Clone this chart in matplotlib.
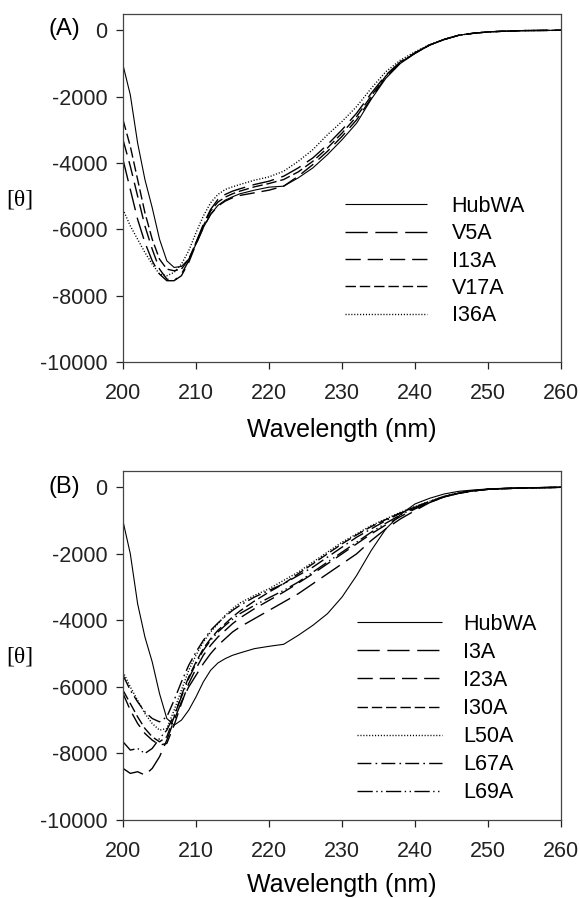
import matplotlib
import matplotlib.pyplot as plt

matplotlib.use("Agg")

plt.rcParams["font.family"] = ["Liberation Sans", "DejaVu Sans"]
plt.rcParams["axes.unicode_minus"] = False

# wavelength grid (nm)
wl = [200, 201, 202, 203, 204, 205, 206, 207, 208, 209, 210, 211, 212, 213,
      214, 215, 216, 218, 220, 222, 224, 226, 228, 230, 232, 234, 236, 238,
      240, 242, 244, 246, 248, 250, 252, 255, 260]

# panel (A)
a_hubwa = [-1050, -1950, -3400, -4500, -5350, -6300, -6950, -7150, -7120,
           -6900, -6450, -5950, -5550, -5280, -5120, -5020, -4930, -4820,
           -4730, -4700, -4450, -4150, -3750, -3300, -2800, -2080, -1450,
           -1000, -700, -450, -280, -150, -90, -50, -30, -10, 0]
a_v5a = [-3900, -4800, -5700, -6400, -6950, -7350, -7550, -7550, -7350,
         -6950, -6400, -5850, -5400, -5100, -4950, -4850, -4780, -4650,
         -4550, -4400, -4150, -3850, -3450, -3000, -2500, -1900, -1350,
         -950, -680, -440, -275, -150, -90, -50, -30, -10, 0]
a_i13a = [-3300, -4100, -5000, -5900, -6600, -7200, -7500, -7550, -7400,
          -7000, -6450, -5950, -5550, -5300, -5150, -5050, -4980, -4900,
          -4820, -4700, -4400, -4050, -3650, -3200, -2700, -2050, -1400,
          -980, -690, -445, -278, -150, -90, -50, -30, -10, 0]
a_v17a = [-2700, -3500, -4500, -5500, -6300, -6900, -7200, -7250, -7200,
          -6900, -6400, -5900, -5450, -5180, -5030, -4930, -4850, -4720,
          -4620, -4500, -4270, -3950, -3550, -3100, -2600, -1980, -1380,
          -970, -690, -445, -278, -150, -90, -50, -30, -10, 0]
a_i36a = [-5400, -5900, -6300, -6700, -7050, -7350, -7400, -7300, -7050,
          -6650, -6100, -5600, -5200, -4950, -4800, -4720, -4650, -4520,
          -4420, -4250, -3950, -3600, -3150, -2750, -2300, -1750, -1250,
          -900, -650, -430, -270, -150, -90, -50, -30, -10, 0]

# panel (B)
b_hubwa = [-1020, -2000, -3500, -4500, -5250, -6200, -6950, -7150, -7000,
           -6700, -6300, -5850, -5500, -5280, -5150, -5050, -4980, -4850,
           -4780, -4720, -4450, -4150, -3800, -3300, -2650, -1900, -1250,
           -820, -500, -330, -200, -120, -80, -50, -30, -10, 0]
b_i3a = [-8450, -8600, -8550, -8650, -8450, -8100, -7600, -7000, -6450,
         -6000, -5650, -5300, -5000, -4750, -4550, -4350, -4200, -3950,
         -3700, -3450, -3200, -2900, -2600, -2300, -2000, -1600, -1250,
         -950, -700, -460, -290, -180, -110, -60, -40, -20, 0]
b_i23a = [-6200, -6700, -7100, -7400, -7600, -7750, -7700, -7150, -6500,
          -5900, -5450, -5050, -4750, -4500, -4300, -4100, -3930, -3650,
          -3400, -3150, -2880, -2600, -2300, -2000, -1700, -1400, -1130,
          -880, -650, -450, -290, -180, -110, -60, -40, -20, 0]
b_i30a = [-6100, -6500, -6900, -7250, -7500, -7650, -7500, -6900, -6250,
          -5700, -5250, -4850, -4550, -4300, -4100, -3900, -3720, -3420,
          -3150, -2900, -2600, -2300, -2000, -1700, -1430, -1180, -970,
          -770, -590, -430, -280, -170, -105, -60, -40, -20, 0]
b_l50a = [-5550, -6000, -6400, -6800, -7100, -7300, -7250, -6700, -6100,
          -5500, -5050, -4650, -4350, -4100, -3850, -3650, -3480, -3250,
          -3050, -2800, -2550, -2250, -1950, -1650, -1400, -1150, -950,
          -750, -580, -420, -270, -160, -100, -60, -40, -20, 0]
b_l67a = [-5650, -6100, -6450, -6750, -6950, -7050, -6900, -6400, -5850,
          -5350, -4950, -4600, -4300, -4080, -3880, -3700, -3550, -3300,
          -3100, -2900, -2650, -2400, -2100, -1800, -1500, -1250, -1000,
          -780, -600, -430, -275, -165, -100, -60, -40, -20, 0]
b_l69a = [-7650, -7900, -7850, -8000, -7850, -7550, -7300, -6850, -6300,
          -5750, -5300, -4900, -4600, -4350, -4150, -3970, -3800, -3550,
          -3320, -3100, -2850, -2550, -2250, -1950, -1650, -1350, -1080,
          -830, -620, -440, -285, -175, -105, -60, -40, -20, 0]

x_ticks = [200, 210, 220, 230, 240, 250, 260]
y_ticks = [-10000, -8000, -6000, -4000, -2000, 0]

SOLID = (0, ())
LONG = (0, (16, 5.5))
MED = (0, (11, 5))
SHORT = (0, (7.5, 2.8))
DOT = (0, (0.8, 1.3))
DASHDOT = (0, (10, 3, 1.2, 3))
DASHDOTDOT = (0, (11, 2.5, 1, 2.5, 1, 2.5))

FS = 15.5

fig = plt.figure(figsize=(5.8, 8.98), dpi=100)
ax_a = fig.add_axes([0.2121, 0.5969, 0.7552, 0.3875])
ax_b = fig.add_axes([0.2121, 0.0869, 0.7552, 0.3886])

panel_a = [("HubWA", a_hubwa, SOLID), ("V5A", a_v5a, LONG),
           ("I13A", a_i13a, MED), ("V17A", a_v17a, SHORT),
           ("I36A", a_i36a, DOT)]
panel_b = [("HubWA", b_hubwa, SOLID), ("I3A", b_i3a, LONG),
           ("I23A", b_i23a, MED), ("I30A", b_i30a, SHORT),
           ("L50A", b_l50a, DOT), ("L67A", b_l67a, DASHDOT),
           ("L69A", b_l69a, DASHDOTDOT)]

for ax, series in ((ax_a, panel_a), (ax_b, panel_b)):
    for name, vals, ls in series:
        ax.plot(wl, vals, color="black", linestyle=ls,
                lw=0.8 if name == "HubWA" else 1.0, label=name)
    ax.set_xlim(200, 260)
    ax.set_ylim(-10000, 490)
    ax.set_xticks(x_ticks)
    ax.set_yticks(y_ticks)
    ax.tick_params(direction="out", length=5, width=0.9, labelsize=FS,
                   colors="#222222")
    ax.tick_params(axis="y", pad=6)
    ax.tick_params(axis="x", pad=10)
    for sp in ax.spines.values():
        sp.set_linewidth(0.9)
        sp.set_color("#444444")

ax_a.legend(loc="upper left", bbox_to_anchor=(0.507, 0.478), frameon=False,
            fontsize=FS, handlelength=3.8, handletextpad=1.15,
            labelspacing=0.3, borderpad=0, borderaxespad=0)
ax_b.legend(loc="upper left", bbox_to_anchor=(0.534, 0.591), frameon=False,
            fontsize=FS, handlelength=3.95, handletextpad=1.0,
            labelspacing=0.33, borderpad=0, borderaxespad=0)

fig.text(342 / 580, 1 - 430 / 898, "Wavelength (nm)", ha="center",
         va="center", fontsize=18)
fig.text(342 / 580, 1 - 885 / 898, "Wavelength (nm)", ha="center",
         va="center", fontsize=18)
fig.text(20 / 580, 1 - 200 / 898, "[θ]", ha="center", va="center",
         fontsize=17, family=["Liberation Serif", "DejaVu Serif"])
fig.text(20 / 580, 1 - 657 / 898, "[θ]", ha="center", va="center",
         fontsize=17, family=["Liberation Serif", "DejaVu Serif"])
fig.text(64 / 580, 1 - 29 / 898, "(A)", ha="center", va="center",
         fontsize=17)
fig.text(64 / 580, 1 - 487 / 898, "(B)", ha="center", va="center",
         fontsize=17)

fig.savefig("out.png", dpi=100)
plt.close(fig)
